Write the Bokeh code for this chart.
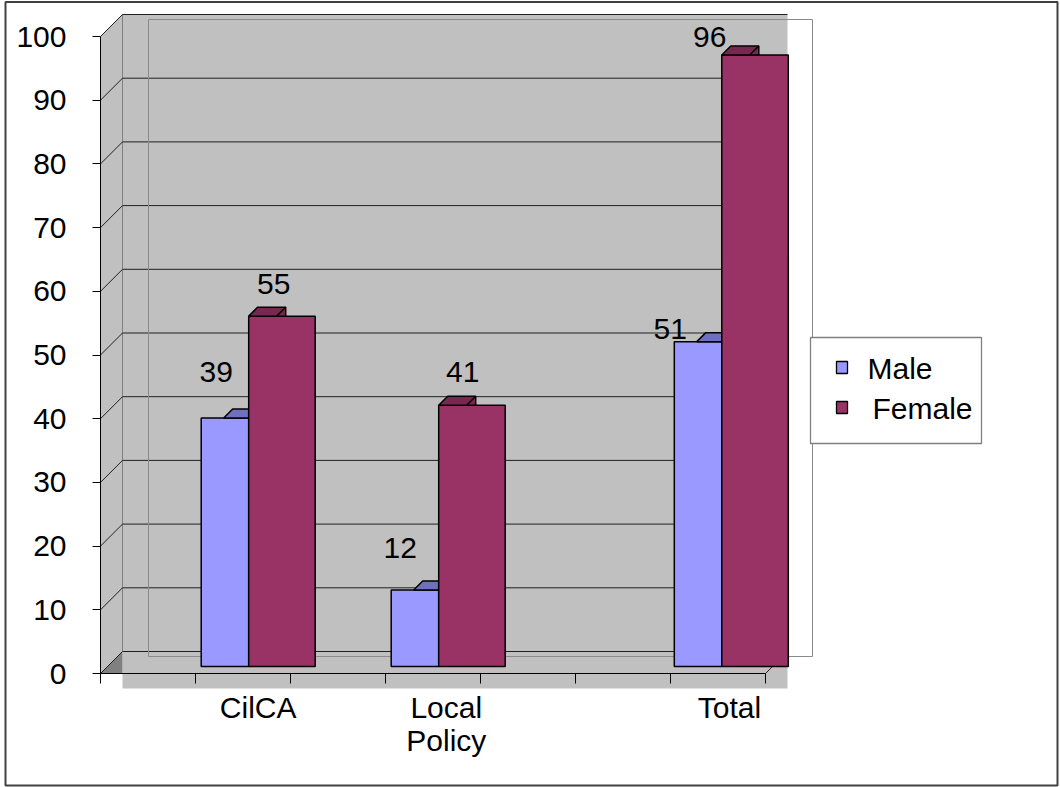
from bokeh.plotting import figure
from bokeh.models import Range1d, LinearAxis, FixedTicker
from bokeh.core.properties import value
from bokeh.embed import file_html
from bokeh.resources import INLINE

# ---------------- data ----------------
categories = ["CilCA", "Local\nPolicy", "Total"]
series_names = ["Male", "Female"]
male = [39, 12, 51]
female = [55, 41, 96]
y_ticks = [0, 10, 20, 30, 40, 50, 60, 70, 80, 90, 100]
category_ticks = [0, 1, 2, 3, 4, 5, 6, 7]

# ---------------- layout / style ----------------
W, H = 1060, 787
X0, SX = 100, 95.0      # pixel of x=0, pixels per x unit
Y0, SY = 673, 6.37      # pixel of y=0, pixels per y unit


def ux(px):
    return (px - X0) / SX


def uy(py):
    return (Y0 - py) / SY


def dx(n):
    return n / SX


def dy(n):
    return n / SY


FONT_NAME = "Liberation Sans"
FONT = value(FONT_NAME)
FS = "30px"
MALE_C, FEMALE_C = "#9999FF", "#993366"
MALE_TOP, FEMALE_TOP = "#7070C0", "#772850"
WALL = "#C0C0C0"

split = [1.56, 3.56, 6.54]        # boundary between the two bars of each group
label_x = [1.66, 3.64, 6.62]      # category label positions
male_w, female_w = 0.5, 0.7
base = dy(7)                      # bars stand a little into the depth
DX, DY = dx(22), dy(22)           # depth of the back wall
wall_right = ux(787)
dep_x, dep_y = dx(9), dy(9)       # depth of the bar top faces

male_lbl_dx = [15, 9, -4]
male_lbl_lift = [46, 42, 13]
female_lbl_dx = [25, 24, -12]
female_lbl_lift = [32, 33, 18]

p = figure(width=W, height=H, x_range=Range1d(ux(0), ux(W)), y_range=Range1d(uy(H), uy(0)),
           output_backend="svg", toolbar_location=None, x_axis_type=None, y_axis_type=None,
           min_border=0)
p.outline_line_color = None
p.background_fill_color = "white"
p.border_fill_color = "white"
p.grid.visible = False

# side wall
p.patch([0, 0, DX, DX], [0, 100, 100 + DY, DY], fill_color=WALL, line_color=None)
# back wall
p.quad(left=DX, right=wall_right, bottom=DY, top=100 + DY, fill_color=WALL, line_color=None)
# floor band
p.quad(left=DX, right=wall_right, bottom=uy(688), top=DY, fill_color=WALL, line_color=None)
p.patch([0, DX, DX], [0, DY, 0], fill_color="#808080", line_color=None)
p.line([DX, DX], [DY, 100 + DY], line_color="#808080", line_width=1)

# gridlines on back wall and diagonals on side wall
n = len(y_ticks)
p.segment(x0=[DX] * n, y0=[v + DY for v in y_ticks], x1=[wall_right] * n,
          y1=[v + DY for v in y_ticks], line_color="#202020", line_width=1)
p.segment(x0=[0] * n, y0=y_ticks, x1=[DX] * n, y1=[v + DY for v in y_ticks],
          line_color="#202020", line_width=1)
p.line([category_ticks[-1], wall_right], [0, DY], line_color="#202020", line_width=1)

# plot-area outline
p.quad(left=ux(148), right=ux(812), top=uy(19), bottom=uy(656), fill_color=None,
       line_color="#8a8a8a", line_width=1)

# axes
yaxis = LinearAxis(fixed_location=0, bounds=(0, 100),
                   ticker=FixedTicker(ticks=y_ticks, minor_ticks=[]))
yaxis.major_tick_out = 8
yaxis.major_tick_in = 0
yaxis.minor_tick_out = 0
yaxis.axis_line_color = "black"
yaxis.major_tick_line_color = "black"
yaxis.major_label_text_font = FONT_NAME
yaxis.major_label_text_font_size = FS
yaxis.major_label_text_color = "black"
yaxis.major_label_standoff = 26
p.add_layout(yaxis, "left")

xaxis = LinearAxis(fixed_location=0, bounds=(0, 7),
                   ticker=FixedTicker(ticks=label_x, minor_ticks=category_ticks))
xaxis.major_label_overrides = {lx: c for lx, c in zip(label_x, categories)}
xaxis.major_tick_out = 0
xaxis.major_tick_in = 0
xaxis.major_tick_line_color = None
xaxis.minor_tick_out = 10
xaxis.minor_tick_in = 0
xaxis.minor_tick_line_color = "black"
xaxis.axis_line_color = "black"
xaxis.major_label_text_font = FONT_NAME
xaxis.major_label_text_font_size = FS
xaxis.major_label_text_color = "black"
xaxis.major_label_text_line_height = 1.0
xaxis.major_label_standoff = 7
p.add_layout(xaxis, "below")

# bars
m_left = [s - male_w for s in split]
m_top = [v + base for v in male]
p.quad(left=m_left, right=split, bottom=base, top=m_top, fill_color=MALE_C,
       line_color="black", line_width=1.5)
p.patches(xs=[[r - dx(25), r - dx(25) + dep_x, r, r] for r in split],
          ys=[[t, t + dep_y, t + dep_y, t] for t in m_top],
          fill_color=MALE_TOP, line_color="black", line_width=1.5)

f_right = [s + female_w for s in split]
f_top = [v + base for v in female]
p.quad(left=split, right=f_right, bottom=base, top=f_top, fill_color=FEMALE_C,
       line_color="black", line_width=1.5)
d = dx(28)
p.patches(xs=[[l, l + dep_x, l + d + dep_x, l + d + dep_x, l + d] for l in split],
          ys=[[t, t + dep_y, t + dep_y, t, t] for t in f_top],
          fill_color=FEMALE_TOP, line_color="black", line_width=1.5)
p.segment(x0=[l + d for l in split], y0=f_top, x1=[l + d + dep_x for l in split],
          y1=[t + dep_y for t in f_top], line_color="black", line_width=1.5)

# data labels
p.text(x=[l + dx(o) for l, o in zip(m_left, male_lbl_dx)],
       y=[t + dy(o) for t, o in zip(m_top, male_lbl_lift)],
       text=[str(v) for v in male], text_font=FONT, text_font_size=FS,
       text_align="center", text_baseline="middle", text_color="black")
p.text(x=[l + dx(o) for l, o in zip(split, female_lbl_dx)],
       y=[t + dy(o) for t, o in zip(f_top, female_lbl_lift)],
       text=[str(v) for v in female], text_font=FONT, text_font_size=FS,
       text_align="center", text_baseline="middle", text_color="black")

# legend
p.quad(left=ux(810), right=ux(981), top=uy(337), bottom=uy(443), fill_color="white",
       line_color="#808080", line_width=1.3)
rows = [367, 407]
p.quad(left=ux(836), right=ux(847), top=[uy(r - 6) for r in rows], bottom=[uy(r + 6) for r in rows],
       fill_color=[MALE_C, FEMALE_C], line_color="black", line_width=1.3)
p.text(x=[ux(867), ux(872)], y=[uy(r + 1) for r in rows], text=series_names,
       text_font=FONT, text_font_size=FS, text_align="left", text_baseline="middle",
       text_color="black")

# outer border
p.quad(left=ux(5), right=ux(1057), top=uy(1.5), bottom=uy(785), fill_color=None,
       line_color="#404040", line_width=2)

open("out.html", "w").write(file_html(p, INLINE))
